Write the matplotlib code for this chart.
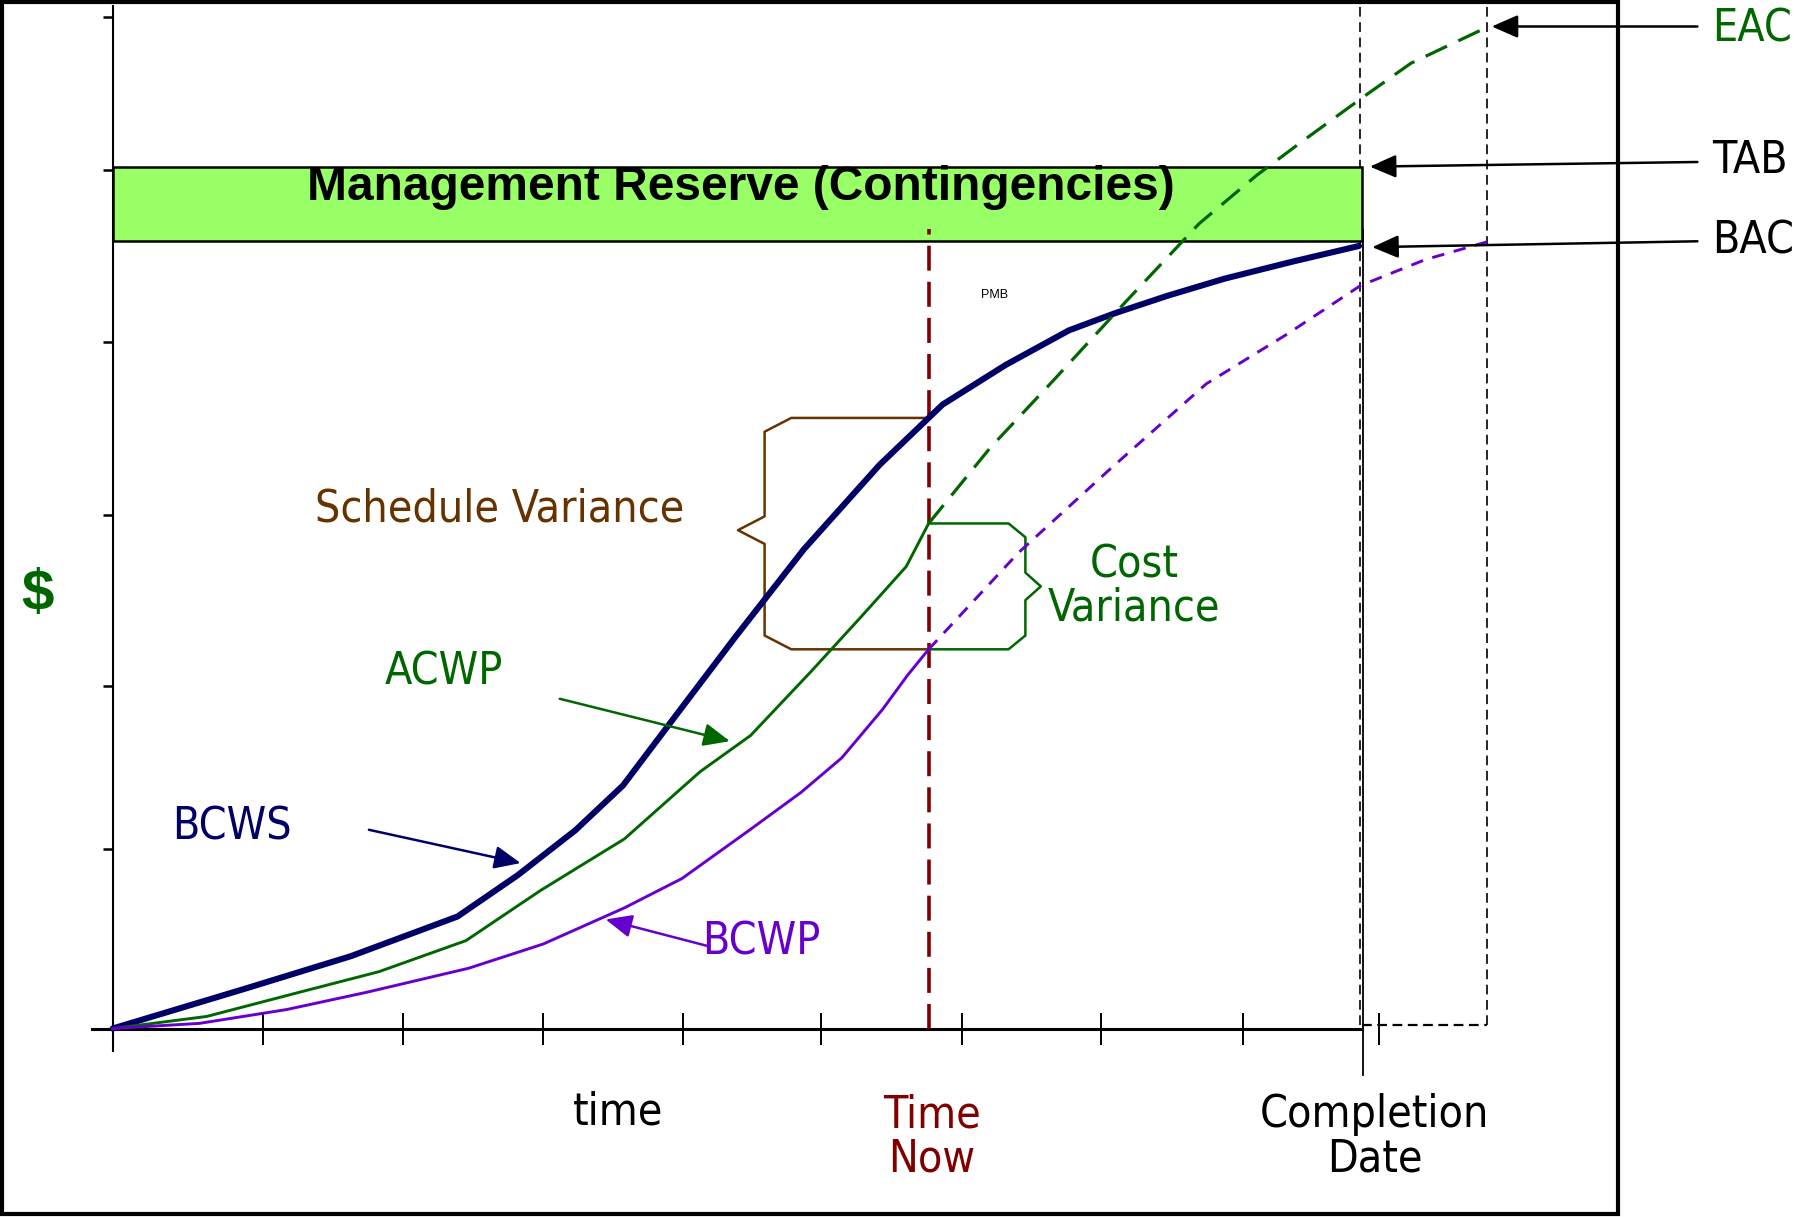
import numpy as np
import matplotlib
matplotlib.use('Agg')
import matplotlib.pyplot as plt
from matplotlib import font_manager
from matplotlib.patches import Rectangle

plt.rcParams['lines.scale_dashes'] = False

# --- data (time units along x, $ units along y) ---
bcws_t = [0, 0.94, 1.70, 2.46, 2.89, 3.30, 3.64, 4.03, 4.44, 4.93, 5.47, 5.92, 6.37, 6.82, 7.15, 7.52, 7.93, 8.42, 8.89]
bcws_v = [0, 0.23, 0.42, 0.65, 0.89, 1.15, 1.41, 1.83, 2.27, 2.78, 3.27, 3.62, 3.85, 4.05, 4.15, 4.25, 4.35, 4.45, 4.54]

acwp_t = [0, 0.67, 1.33, 1.90, 2.52, 3.05, 3.65, 4.19, 4.55, 4.98, 5.34, 5.66, 5.82]
acwp_v = [0, 0.07, 0.21, 0.33, 0.51, 0.80, 1.10, 1.49, 1.70, 2.07, 2.39, 2.68, 2.93]

eac_t = [5.82, 6.26, 6.71, 7.23, 7.75, 8.16, 8.49, 8.93, 9.26, 9.78]
eac_v = [2.93, 3.37, 3.76, 4.22, 4.67, 4.95, 5.15, 5.41, 5.60, 5.80]

bcwp_t = [0, 0.62, 1.24, 1.81, 2.54, 3.07, 3.65, 4.06, 4.54, 4.91, 5.20, 5.49, 5.67, 5.82]
bcwp_v = [0, 0.03, 0.11, 0.21, 0.35, 0.49, 0.70, 0.87, 1.15, 1.37, 1.57, 1.85, 2.05, 2.20]

bcwp_fc_t = [5.82, 6.46, 7.12, 7.80, 8.38, 8.90, 9.36, 9.83]
bcwp_fc_v = [2.20, 2.76, 3.25, 3.74, 4.03, 4.31, 4.46, 4.57]

time_now = 5.82
completion = 8.91
eac_completion = 9.80
tab = 5.00
bac = 4.57

x_ticks = [1.07, 2.07, 3.07, 4.07, 5.05, 6.06, 7.05, 8.06, 9.03]
y_ticks = [1.04, 1.99, 2.98, 3.98, 4.98, 5.87]

# colours
navy = '#000066'
green = '#006600'
purple = '#6600CC'
darkred = '#800000'
brown = '#663300'
reserve = '#99FF66'

names = {f.name for f in font_manager.fontManager.ttflist}
if 'Liberation Sans Narrow' in names:
    nkw = dict(family='Liberation Sans Narrow')
    fs = 35
else:
    nkw = dict(family='DejaVu Sans', fontstretch='condensed')
    fs = 32

fig = plt.figure(figsize=(18.02, 12.17), dpi=100)
ax = fig.add_axes([0, 0, 1, 1])
ax.set_xlim(-0.8033, 12.049)
ax.set_ylim(-1.0933, 5.9667)
ax.patch.set_visible(False)

# axes as in the drawing
ax.spines['top'].set_visible(False)
ax.spines['right'].set_visible(False)
ax.spines['left'].set_position(('data', 0))
ax.spines['bottom'].set_position(('data', 0))
ax.spines['left'].set_bounds(-0.133, 5.93)
ax.spines['bottom'].set_bounds(-0.148, completion)
ax.spines['left'].set_linewidth(1.5)
ax.spines['bottom'].set_linewidth(2.2)
ax.set_xticks(x_ticks)
ax.set_yticks(y_ticks)
ax.set_xticklabels([])
ax.set_yticklabels([])
ax.tick_params(axis='x', direction='inout', length=23, width=1.4)
ax.tick_params(axis='y', direction='out', length=7, width=1.8)

# management reserve band
ax.add_patch(Rectangle((0, bac), completion, tab - bac, facecolor=reserve,
                       edgecolor='black', lw=1.8, zorder=4))
ax.text(4.484, 4.807, 'Management Reserve (Contingencies)', ha='center', va='baseline',
        fontsize=34.5, fontweight='bold', family='Liberation Sans', zorder=5)

# completion lines
ax.plot([completion + 0.005, completion + 0.005], [-0.267, bac + 0.06], color='black', lw=1.3, zorder=3)
ax.plot([completion - 0.01, completion - 0.01], [0.02, 5.93], color='black', lw=1.2,
        dashes=(7, 4), zorder=3)
ax.plot([eac_completion, eac_completion], [0.02, 5.93], color='black', lw=1.2,
        dashes=(7, 4), zorder=3)
ax.plot([completion, eac_completion], [0.02, 0.02], color='black', lw=1.6,
        dashes=(7, 4), zorder=3)

# time now
ax.plot([time_now, time_now], [0, 4.64], color=darkred, lw=2.6, dashes=(18, 8), zorder=5)

# curves
ax.plot(bcws_t, bcws_v, color=navy, lw=4.4, solid_capstyle='round', zorder=6)
ax.plot(acwp_t, acwp_v, color=green, lw=2.1, zorder=6)
ax.plot(eac_t, eac_v, color=green, lw=2.3, dashes=(17, 9), zorder=6)
ax.plot(bcwp_t, bcwp_v, color=purple, lw=2.1, zorder=6)
ax.plot(bcwp_fc_t, bcwp_fc_v, color=purple, lw=2.1, dashes=(9, 7), zorder=6)


def brace(x0, x_arm, x_spine, x_tip, y_top, y_bot, y_tip, color):
    c = 0.08
    xs = [x0, x_arm, x_spine, x_spine, x_tip, x_spine, x_spine, x_arm, x0]
    ys = [y_top, y_top, y_top - c, y_tip + c, y_tip, y_tip - c, y_bot + c, y_bot, y_bot]
    ax.plot(xs, ys, color=color, lw=1.8, zorder=5)


sv_top = np.interp(time_now, bcws_t, bcws_v)
cv_top = np.interp(time_now, acwp_t, acwp_v)
ev_now = np.interp(time_now, bcwp_t, bcwp_v)
brace(time_now, time_now - 0.98, time_now - 1.17, time_now - 1.36, sv_top, ev_now,
      (sv_top + ev_now) / 2 + 0.02, brown)
brace(time_now, time_now + 0.57, time_now + 0.69, time_now + 0.80, cv_top, ev_now,
      (cv_top + ev_now) / 2, green)

# labels
ax.text(2.762, 3.013, 'Schedule Variance', color=brown, fontsize=fs, ha='center', va='center', **nkw)
ax.text(7.287, 2.567, 'Cost\nVariance', color=green, fontsize=fs, ha='center', va='center',
        linespacing=1.0, **nkw)
ax.text(2.361, 2.067, 'ACWP', color=green, fontsize=fs, ha='center', va='center', **nkw)
ax.text(0.852, 1.167, 'BCWS', color=navy, fontsize=fs, ha='center', va='center', **nkw)
ax.text(4.623, 0.50, 'BCWP', color=purple, fontsize=fs, ha='center', va='center', **nkw)
ax.text(3.607, -0.487, 'time', color='black', fontsize=fs, ha='center', va='center', **nkw)
ax.text(5.844, -0.63, 'Time\nNow', color=darkred, fontsize=fs, ha='center', va='center',
        linespacing=1.05, **nkw)
ax.text(9.0, -0.63, 'Completion\nDate', color='black', fontsize=fs, ha='center', va='center',
        linespacing=1.05, **nkw)
ax.text(-0.533, 2.513, '$', color=green, fontsize=42, fontweight='bold', ha='center',
        va='center', family='Liberation Sans')
ax.text(6.287, 4.253, 'PMB', color='black', fontsize=9, ha='center', va='center',
        family='Liberation Sans')
ax.text(11.41, 5.80, 'EAC', color=green, fontsize=fs, ha='left', va='center', **nkw)
ax.text(11.41, 5.033, 'TAB', color='black', fontsize=fs, ha='left', va='center', **nkw)
ax.text(11.41, 4.567, 'BAC', color='black', fontsize=fs, ha='left', va='center', **nkw)


def arrow(tail, head, color):
    ax.annotate('', xy=head, xytext=tail,
                arrowprops=dict(arrowstyle='-|>,head_length=0.8,head_width=0.35',
                                color=color, lw=1.8, mutation_scale=20,
                                shrinkA=0, shrinkB=0), zorder=7)


arrow((11.303, 5.813), (9.836, 5.813), 'black')
arrow((11.303, 5.027), (8.967, 5.0), 'black')
arrow((11.303, 4.567), (8.984, 4.533), 'black')
arrow((3.189, 1.913), (4.402, 1.667), green)
arrow((1.828, 1.153), (2.91, 0.96), navy)
arrow((4.238, 0.48), (3.516, 0.633), purple)

# outer frame
fig.patches.append(Rectangle((0.0013, 0.0028), 0.8967, 0.9952, transform=fig.transFigure,
                             fill=False, edgecolor='black', lw=3))

fig.savefig('out.png', dpi=100)
